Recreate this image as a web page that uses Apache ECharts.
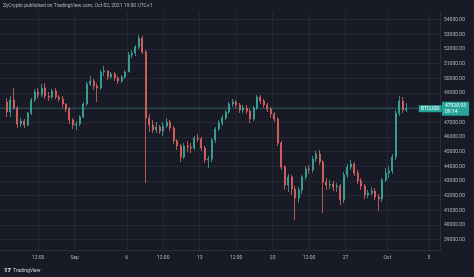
<!DOCTYPE html>
<html><head><meta charset="utf-8">
<script src="https://cdn.jsdelivr.net/npm/echarts@6/dist/echarts.min.js"></script>
<style>html,body{margin:0;padding:0;background:#181b26;}#c{width:474px;height:277px;}</style>
</head><body><div id="c"></div>
<script>
// 8-hour candles, first one centred on Aug 25 12:00 UTC
const candleStart = '2021-08-25T12:00:00Z';
const candleStepHours = 8;
const opens = [48386,47705,48523,47977,46887,47091,46818,47637,48523,49068,
48864,49341,48795,48727,49136,48727,48591,48250,47909,47159,
46818,46887,47364,48250,49614,49818,49477,49341,50432,50500,
50091,50295,50023,49818,50091,50432,51591,51727,52136,52749,
51795,47296,46818,46478,46682,46409,46750,47023,46614,45728,
45387,44637,45387,45319,45251,45932,45864,45251,44432,44501,
45796,46546,46955,47296,47705,48250,48386,48182,47841,47977,
47773,47227,47977,48727,48455,48182,47909,47568,47227,45591,
43955,42728,43273,42455,41841,42387,43273,43819,43751,44501,
44842,44296,42932,42728,42796,42592,42660,41705,43410,43955,
44160,43546,43001,42660,42046,42182,42319,41910,41773,43069,
43546,43682,44637,47637,48455,47841];
const closes = [47705,48523,47977,46887,47091,46818,47637,48523,49068,48864,
49341,48795,48727,49136,48727,48591,48250,47909,47159,46818,
46887,47364,48250,49614,49818,49477,49341,50432,50500,50091,
50295,50023,49818,50091,50432,51591,51727,52136,52749,51795,
47296,46818,46478,46682,46409,46750,47023,46614,45728,45387,
44637,45387,45319,45251,45932,45864,45251,44432,44501,45796,
46546,46955,47296,47705,48250,48386,48182,47841,47977,47773,
47227,47977,48727,48455,48182,47909,47568,47227,45591,43955,
42728,43273,42455,41841,42387,43273,43819,43751,44501,44842,
44296,42932,42728,42796,42592,42660,41705,43410,43955,44160,
43546,43001,42660,42046,42182,42319,41910,41773,43069,43546,
43682,44637,47637,48455,47841,47928.93];
const lows = [47364,47364,47841,46614,46682,46614,46750,47500,48386,48659,
48727,48591,48455,48591,48591,48386,47977,47705,46887,46546,
46478,46750,47296,48114,49477,49205,48386,49205,50159,49886,
49954,49818,49614,49682,49954,50432,51386,51522,51999,51659,
42864,46341,46273,46273,46205,46069,46614,46409,45523,45114,
44296,44501,44978,44910,45114,45660,45046,44228,43887,44296,
45591,46409,46750,47159,47568,48046,47977,47637,47637,47568,
46955,47091,47841,48250,47977,47705,47296,47023,45387,43751,
42387,42251,42046,40342,41501,42114,43069,43478,43546,44296,
44091,40820,42387,42455,42319,42251,41364,41501,43205,43751,
43342,42796,42387,41773,41841,42046,41705,40956,41569,42932,
43205,43478,44432,47432,47637,47705];
const highs = [48659,48795,49341,48114,47296,47227,47705,48659,49273,49341,
49614,49682,49068,49273,49341,48864,48795,48318,48046,47296,
47091,47500,48386,49750,50159,49954,49682,50568,50841,50568,
50432,50432,50159,50227,50568,51795,51931,52272,52954,52886,
51931,47568,47159,47023,46818,47023,47296,47159,46750,45864,
45523,45591,45728,45591,46069,46205,46000,45387,44705,45932,
46682,47159,47500,47841,48386,48591,48523,48318,48182,48182,
47909,48114,48864,48864,48591,48318,48046,47705,47364,45728,
44091,43478,43410,42660,42592,43410,44023,44091,44705,45046,
45114,44432,43205,43069,43001,42864,42796,43614,44160,44432,
44296,43751,43205,42796,42387,42592,42523,42114,43205,43887,
44023,44842,47841,48795,48727,48318];

const xTickTimes = ['2021-08-28T12:00:00Z','2021-09-01T00:00:00Z','2021-09-06T00:00:00Z','2021-09-09T12:00:00Z','2021-09-13T00:00:00Z','2021-09-16T12:00:00Z','2021-09-20T00:00:00Z','2021-09-23T12:00:00Z','2021-09-27T00:00:00Z','2021-10-01T00:00:00Z','2021-10-05T00:00:00Z'];
const xTickLabels = ['12:00','Sep','6','12:00','13','12:00','20','12:00','27','Oct','5'];
const yTicks = [39000,40000,41000,42000,43000,44000,45000,46000,47000,48000,49000,50000,51000,52000,53000,54000];
const lastPrice = 47928.93;
const symbolName = 'BTCUSD';
const countdown = '09:14';
const headerText = 'ZyCrypto published on TradingView.com, Oct 02, 2021 19:00 UTC+1';

const xMin = Date.parse('2021-08-24T20:00:00Z');
const xMax = Date.parse('2021-10-06T01:30:00Z');
const yMin = 38297, yMax = 54522;
const tagTime = Date.parse('2021-10-05T03:00:00Z');

const t0 = Date.parse(candleStart);
const data = opens.map((o, i) => [t0 + i * candleStepHours * 3600e3, o, closes[i], lows[i], highs[i]]);
const xTickVals = xTickTimes.map(s => Date.parse(s));

const UP = '#3aa99d', DOWN = '#e2645f', GRID = '#242835', TXT = '#b2b5be', TAG = '#26a69a';
const chart = echarts.init(document.getElementById('c'), null, {renderer: 'canvas'});
chart.setOption({
  backgroundColor: '#181b26',
  animation: false,
  textStyle: {fontFamily: 'Roboto, "DejaVu Sans", sans-serif'},
  grid: {left: 0, right: 34, top: 12, bottom: 27, containLabel: false},
  xAxis: {
    type: 'value', min: xMin, max: xMax, scale: true,
    axisLine: {show: true, lineStyle: {color: '#2a2e39'}},
    axisTick: {show: false, customValues: xTickVals},
    splitLine: {show: true, lineStyle: {color: GRID, width: 1}},
    axisLabel: {
      customValues: xTickVals, color: TXT, fontSize: 5, margin: 5,
      formatter: v => { const k = xTickVals.indexOf(v); return k >= 0 ? xTickLabels[k] : ''; }
    }
  },
  yAxis: {
    type: 'value', position: 'right', min: yMin, max: yMax, scale: true,
    axisLine: {show: true, lineStyle: {color: '#2a2e39'}},
    axisTick: {show: false, customValues: yTicks},
    splitLine: {show: true, lineStyle: {color: GRID, width: 1}},
    axisLabel: {customValues: yTicks, color: TXT, fontSize: 5, margin: 4, formatter: v => v.toFixed(2)}
  },
  series: [{
    type: 'candlestick',
    data: data,
    encode: {x: 0, y: [1, 2, 3, 4]},
    barWidth: 1.5,
    itemStyle: {color: UP, color0: DOWN, borderColor: UP, borderColor0: DOWN, borderWidth: 0.8},
    markLine: {
      silent: true, symbol: 'none', animation: false,
      lineStyle: {color: 'rgba(58,169,157,0.35)', type: 'solid', width: 1},
      label: {
        show: true, position: 'end', distance: 2,
        formatter: lastPrice.toFixed(2) + '\n' + countdown,
        backgroundColor: TAG, color: '#ffffff', fontSize: 5, lineHeight: 6, padding: [1, 3]
      },
      data: [{yAxis: lastPrice}]
    },
    markPoint: {
      silent: true, animation: false,
      data: [{coord: [tagTime, lastPrice], symbol: 'rect', symbolSize: [23, 7],
        itemStyle: {color: TAG},
        label: {show: true, position: 'inside', formatter: symbolName, color: '#ffffff', fontSize: 5}}]
    }
  }],
  graphic: [
    {type: 'text', left: 3, top: 3, style: {text: headerText, fill: TXT, fontSize: 5, fontFamily: 'Roboto, sans-serif'}},
    {type: 'text', left: 4, top: 267, style: {text: '17', fill: '#e0e3eb', fontSize: 6, fontWeight: 900, fontFamily: 'Roboto, sans-serif'}},
    {type: 'text', left: 13, top: 268, style: {text: 'TradingView', fill: '#d1d4dc', fontSize: 5, fontFamily: 'Roboto, sans-serif'}}
  ]
});
</script>
</body></html>
